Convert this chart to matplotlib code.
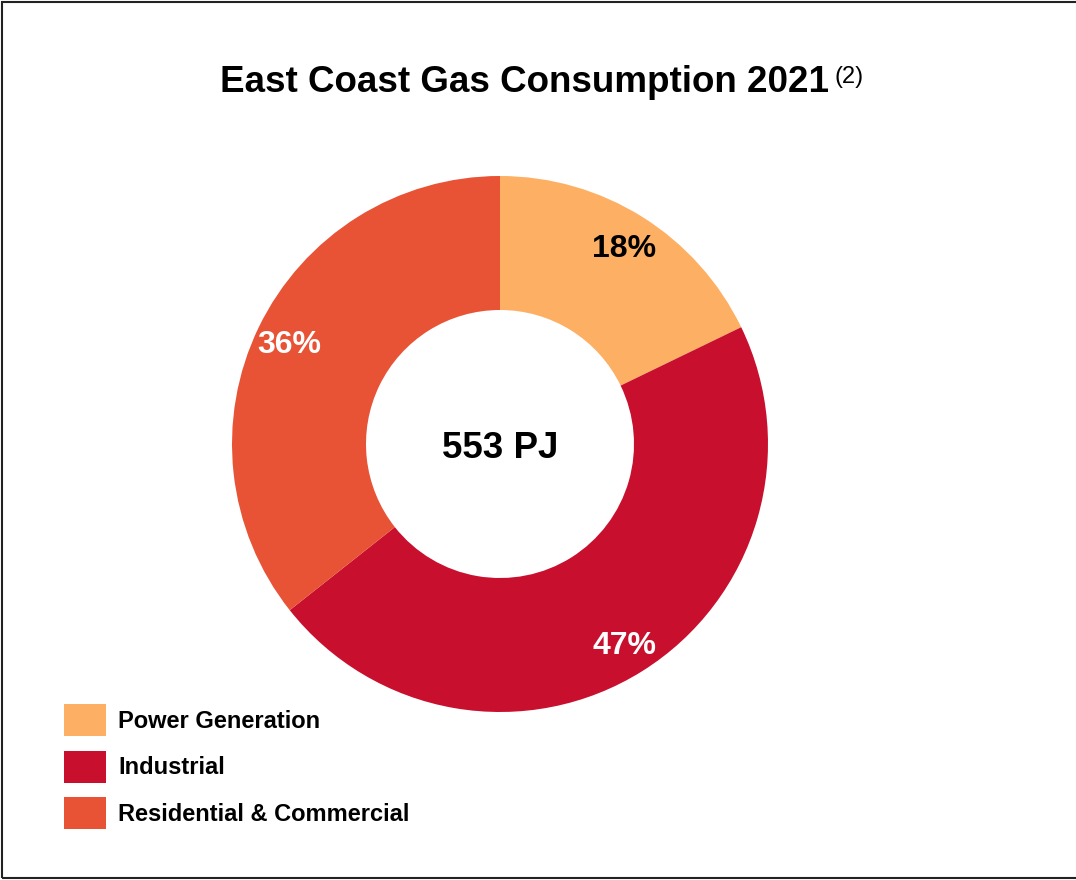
import matplotlib
matplotlib.use('Agg')
import matplotlib.pyplot as plt
from matplotlib.patches import Rectangle

plt.rcParams['font.family'] = ['Liberation Sans', 'DejaVu Sans']

# Du lieu
sectors = ['Power Generation', 'Industrial', 'Residential & Commercial']
shares = [18, 47, 36]
share_labels = ['18%', '47%', '36%']
colors = ['#FDB063', '#C8102E', '#E85235']
label_colors = ['black', 'white', 'white']
total_text = '553 PJ'

W, H = 1076, 880
fig = plt.figure(figsize=(W / 100, H / 100), dpi=100)

# khung vien
fig.patches.append(Rectangle((2 / W, 2 / H), 1.05, 1 - 4 / H, transform=fig.transFigure,
                             fill=False, edgecolor='#222222', linewidth=1.5))

# tieu de
fig.text(829 / W, 1 - 92 / H, 'East Coast Gas Consumption 2021', ha='right', va='baseline',
         fontsize=26.5, fontweight='bold')
fig.text(834 / W, 1 - 83 / H, '(2)', ha='left', va='baseline', fontsize=17)

# donut
cx, cy, r = 500, 880 - 444, 268
ax = fig.add_axes([(cx - r) / W, (cy - r) / H, 2 * r / W, 2 * r / H])
wedges, texts, autotexts = ax.pie(shares, colors=colors, startangle=90, counterclock=False,
                                  radius=1, wedgeprops=dict(width=0.5, linewidth=0),
                                  autopct='%d', pctdistance=0.875)
for t, lab, c in zip(autotexts, share_labels, label_colors):
    t.set_text(lab)
    t.set_color(c)
    t.set_fontsize(23)
    t.set_fontweight('bold')
    t.set_va('center_baseline')
ax.text(0, 0, total_text, ha='center', va='center_baseline', fontsize=26.5, fontweight='bold')
ax.set_xlim(-1, 1)
ax.set_ylim(-1, 1)
ax.axis('off')

# chu thich
fig.legend(wedges, sectors, loc='upper left', bbox_to_anchor=(43 / W, 1 - 683 / H),
           frameon=False, prop=dict(size=17, weight='bold'),
           handlelength=1.78, handleheight=1.71, labelspacing=0.61, handletextpad=0.5)

fig.savefig('out.png', dpi=100)
